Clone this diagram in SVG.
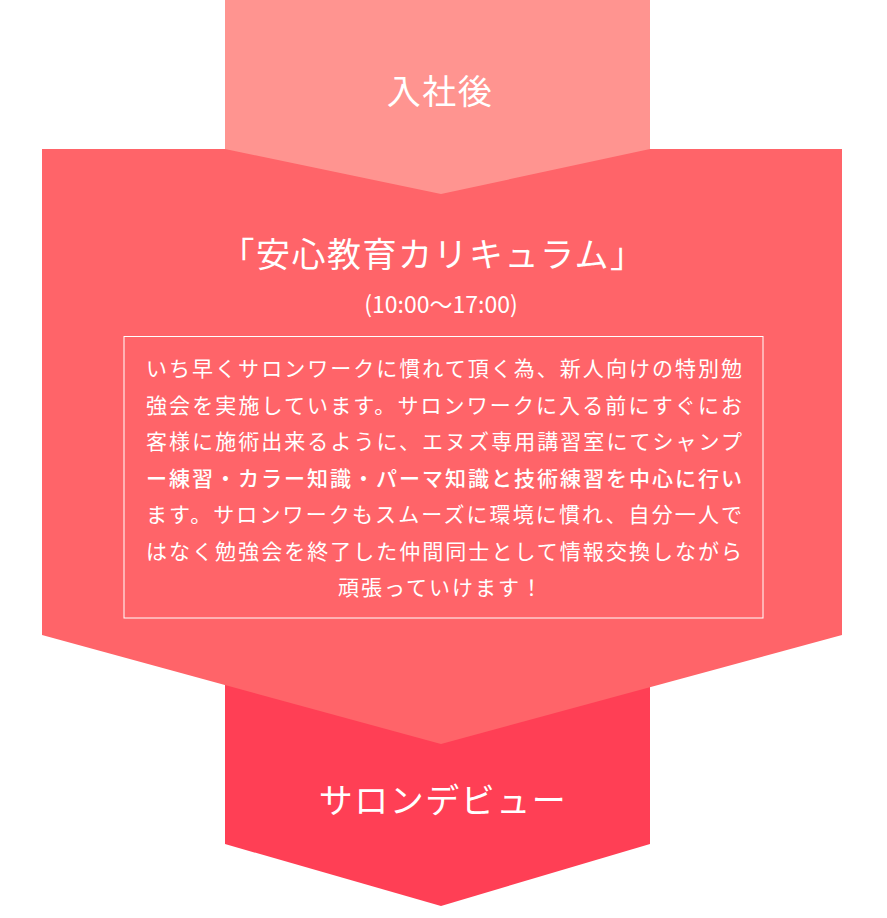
<svg xmlns="http://www.w3.org/2000/svg" width="887" height="918" viewBox="0 0 887 918">
<style>
text{font-family:"Noto Sans CJK JP","Noto Sans",sans-serif;fill:#ffffff}
.h{font-size:34px;text-anchor:middle;letter-spacing:1.5px}
.t{font-size:23px;text-anchor:middle}
.b{font-size:21px}
.bb{font-size:21px;font-weight:500}
</style>
<rect width="887" height="918" fill="#ffffff"/>
<g id="debut">
<polygon points="225,600 650,600 650,844 441,906 225,844" fill="#FF3F55"/>
<text class="h" x="443" y="813">サロンデビュー</text>
</g>
<g id="curriculum">
<polygon points="42,149 842,149 842,635 441,744 42,635" fill="#FF6469"/>
<text class="h" x="433" y="267">「安心教育カリキュラム」</text>
<text class="t" x="441" y="313">(10:00〜17:00)</text>
<rect x="124" y="336.5" width="639" height="281.5" fill="none" stroke="#ffffff" stroke-width="1"/>
<text class="b" x="146" y="376" textLength="596" lengthAdjust="spacing">いち早くサロンワークに慣れて頂く為、新人向けの特別勉</text>
<text class="b" x="146" y="412.5" textLength="596" lengthAdjust="spacing">強会を実施しています。サロンワークに入る前にすぐにお</text>
<text class="b" x="146" y="449" textLength="596" lengthAdjust="spacing">客様に施術出来るように、エヌズ専用講習室にてシャンプ</text>
<text class="bb" x="146" y="485.5" textLength="596" lengthAdjust="spacing">ー練習・カラー知識・パーマ知識と技術練習を中心に行い</text>
<text class="b" x="146" y="522" textLength="596" lengthAdjust="spacing">ます。サロンワークもスムーズに環境に慣れ、自分一人で</text>
<text class="b" x="146" y="558.5" textLength="596" lengthAdjust="spacing">はなく勉強会を終了した仲間同士として情報交換しながら</text>
<text class="b" x="338" y="595" textLength="204" lengthAdjust="spacing">頑張っていけます！</text>
</g>
<g id="nyusha">
<polygon points="225,0 650,0 650,149 441,194 225,149" fill="#FF9490"/>
<text class="h" x="440" y="104">入社後</text>
</g>
<g id="connectors"></g>
</svg>
